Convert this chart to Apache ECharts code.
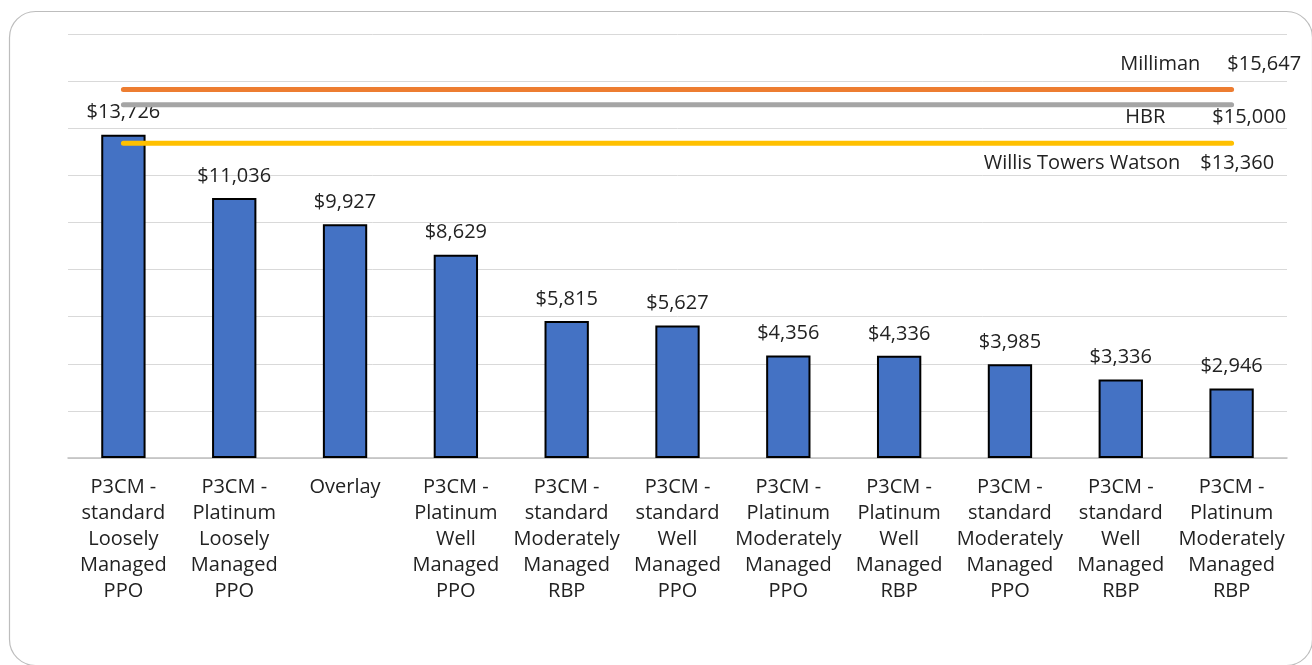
<!DOCTYPE html>
<html>
<head>
<meta charset="utf-8">
<script src="https://cdn.jsdelivr.net/npm/echarts@6/dist/echarts.min.js"></script>
<style>
html,body{margin:0;padding:0;background:#fff;}
#c{width:1312px;height:665px;}
</style>
</head>
<body>
<div id="c"></div>
<script>
const categories = [
  "P3CM -\nstandard\nLoosely\nManaged\nPPO",
  "P3CM -\nPlatinum\nLoosely\nManaged\nPPO",
  "Overlay",
  "P3CM -\nPlatinum\nWell\nManaged\nPPO",
  "P3CM -\nstandard\nModerately\nManaged\nRBP",
  "P3CM -\nstandard\nWell\nManaged\nPPO",
  "P3CM -\nPlatinum\nModerately\nManaged\nPPO",
  "P3CM -\nPlatinum\nWell\nManaged\nRBP",
  "P3CM -\nstandard\nModerately\nManaged\nPPO",
  "P3CM -\nstandard\nWell\nManaged\nRBP",
  "P3CM -\nPlatinum\nModerately\nManaged\nRBP"
];
const costs = [13726, 11036, 9927, 8629, 5815, 5627, 4356, 4336, 3985, 3336, 2946];
const benchmarkNames = ["Milliman", "HBR", "Willis Towers Watson"];
const benchmarkValues = [15647, 15000, 13360];
const yMin = 0, yMax = 18000, yStep = 2000;

const FONT = "'Open Sans', 'Noto Sans', sans-serif";
const TXT = '#222222';
const FS = 20;
const fmt = v => '$' + v.toLocaleString('en-US');

const lineColors = ['#ED7D31', '#A5A5A5', '#FFC000'];
const labelPos = [[70, -25], [55, 13], [43, 20]];
const gaps = [27, 47, 20];

const lineSeries = benchmarkNames.map((name, k) => {
  const last = categories.length - 1;
  return {
    type: 'line',
    name: name,
    z: 5,
    symbol: 'circle',
    symbolSize: 1,
    showSymbol: true,
    itemStyle: { color: 'rgba(0,0,0,0)' },
    lineStyle: { color: lineColors[k], width: 5, cap: 'round' },
    emphasis: { disabled: true },
    data: categories.map((c, i) => i === last ? {
      value: benchmarkValues[k],
      label: {
        show: true,
        position: labelPos[k],
        align: 'right',
        verticalAlign: 'middle',
        formatter: '{n|' + name + '}{v|' + fmt(benchmarkValues[k]) + '}',
        rich: {
          n: { fontFamily: FONT, fontSize: FS, color: TXT },
          v: { fontFamily: FONT, fontSize: FS, color: TXT, padding: [0, 0, 0, gaps[k]] }
        }
      }
    } : benchmarkValues[k])
  };
});

const chart = echarts.init(document.getElementById('c'), null, { renderer: 'canvas' });
chart.setOption({
  animation: false,
  backgroundColor: '#fff',
  graphic: [{
    type: 'rect',
    left: 7, top: 9,
    shape: { width: 1303, height: 654, r: 26 },
    style: { fill: 'none', stroke: '#bdbdbd', lineWidth: 1.2 },
    z: -10
  }],
  grid: { left: 68, right: 25, top: 34, bottom: 207 },
  xAxis: {
    type: 'category',
    data: categories,
    axisLine: { lineStyle: { color: '#bfbfbf', width: 1.5 } },
    axisTick: { show: false },
    axisLabel: {
      interval: 0,
      margin: 16,
      fontFamily: FONT,
      fontSize: FS,
      lineHeight: 26,
      color: TXT,
      verticalAlign: 'top'
    }
  },
  yAxis: {
    type: 'value',
    min: yMin, max: yMax, interval: yStep,
    axisLabel: { show: false },
    axisLine: { show: false },
    axisTick: { show: false },
    splitLine: { lineStyle: { color: '#d9d9d9', width: 1 } }
  },
  series: [{
    type: 'bar',
    data: costs,
    barWidth: '40%',
    z: 2,
    itemStyle: { color: '#4472C4', borderColor: '#000', borderWidth: 2 },
    label: {
      show: true,
      position: 'top',
      distance: 12,
      fontFamily: FONT,
      fontSize: FS,
      color: TXT,
      formatter: p => fmt(p.value)
    }
  }].concat(lineSeries)
});
</script>
</body>
</html>
